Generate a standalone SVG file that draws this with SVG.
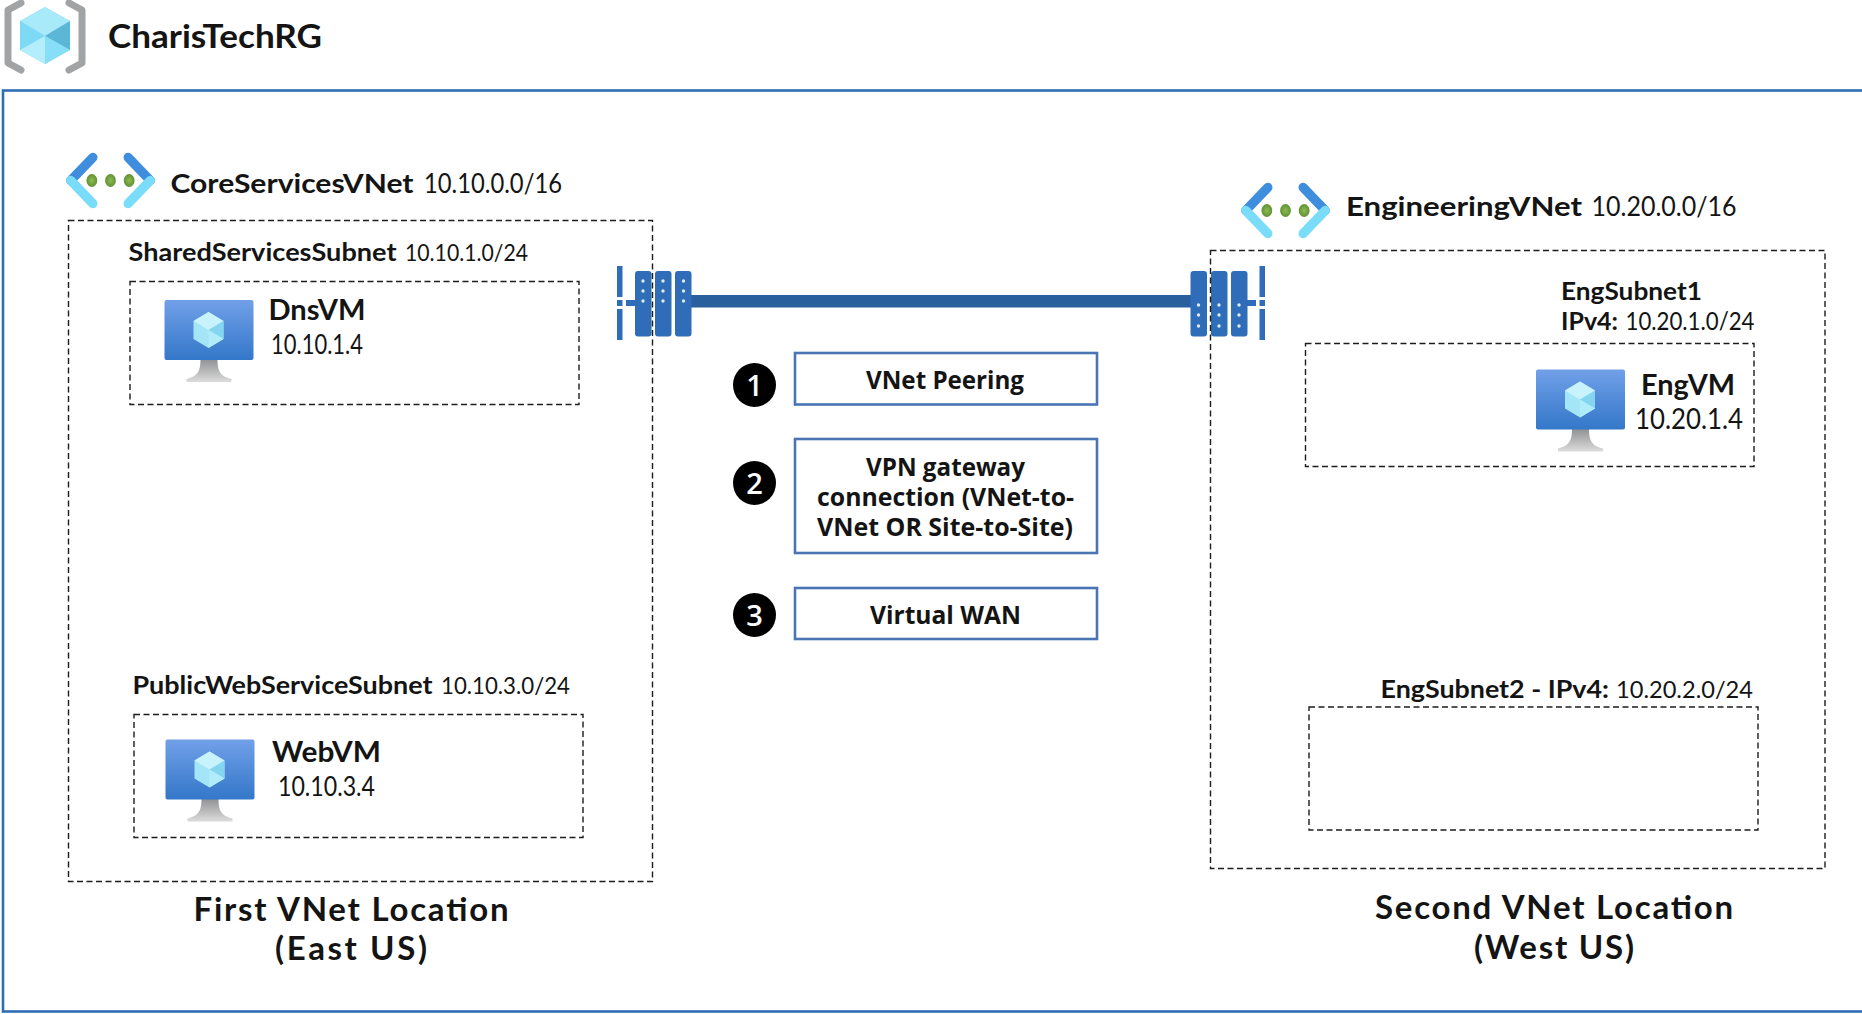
<svg xmlns="http://www.w3.org/2000/svg" width="1862" height="1014" viewBox="0 0 1862 1014">
<style>
text{fill:#141414;font-family:"Lato","Open Sans","Liberation Sans",sans-serif}
.b{font-weight:700}
.r{font-weight:400}
.box{font-family:"Open Sans","Noto Sans","Liberation Sans",sans-serif;font-weight:700;font-size:25px}
.num{font-family:"Open Sans","Noto Sans","Liberation Sans",sans-serif;font-weight:600;font-size:29px;fill:#fff;text-anchor:middle}
.dash{fill:none;stroke:#1c1c1c;stroke-width:1.4;stroke-dasharray:6 3.5}
.opt{fill:#fff;stroke:#4a74b4;stroke-width:2.6}
.gw{fill:#2f6db8}
.dot{fill:#dfeaf6}
</style>
<defs>
<linearGradient id="scr" x1="0" y1="0" x2="0" y2="1"><stop offset="0" stop-color="#71a0e8"/><stop offset="1" stop-color="#3477c9"/></linearGradient>
<linearGradient id="std" x1="0" y1="0" x2="0" y2="1"><stop offset="0" stop-color="#8f9092"/><stop offset="1" stop-color="#dcdcdc"/></linearGradient>
<radialGradient id="grn"><stop offset="0" stop-color="#8dbb4e"/><stop offset="1" stop-color="#5f9236"/></radialGradient>
<symbol id="vnet" viewBox="-46 -28 92 56" overflow="visible">
<path d="M-40.500 0L-18 -23.500M40.500 0L18 -23.500" fill="none" stroke="#3f8ede" stroke-width="9.500" stroke-linecap="round"/>
<path d="M-40.500 0L-18 23.500M40.500 0L18 23.500" fill="none" stroke="#79dcf8" stroke-width="9.500" stroke-linecap="round"/>
<ellipse cx="-19" cy="0" rx="5.500" ry="6.500" fill="url(#grn)"/><ellipse cx="0" cy="0" rx="5.500" ry="6.500" fill="url(#grn)"/><ellipse cx="19" cy="0" rx="5.500" ry="6.500" fill="url(#grn)"/>
</symbol>
<symbol id="vm" viewBox="0 0 89 83" overflow="visible">
<path d="M36 59H53C53 72 56 76 67 79V82H22V79C33 76 36 72 36 59Z" fill="url(#std)"/>
<rect x="0" y="0" width="89" height="60" rx="2" fill="url(#scr)"/>
<path d="M44 12L59 21V39L44 48L29 39V21Z" fill="#a4e6f8"/>
<path d="M44 12L59 21L44 30L29 21Z" fill="#c8f2fc"/>
<path d="M59 21V39L44 30Z" fill="#84d6f0"/>
<path d="M44 30L44 48L59 39Z" fill="#b0ecfa"/>
</symbol>
</defs>

<rect id="frame" x="3" y="90.500" width="1880" height="921" fill="none" stroke="#2e6fb3" stroke-width="2.600"/>

<g id="resource-group">
<path d="M21 3L8 10V63L21 70M69 3L82 10V63L69 70" fill="none" stroke="#a2a3a5" stroke-width="7" stroke-linejoin="round" stroke-linecap="round"/>
<path d="M45 7L70 21V50L45 64L20 50V21Z" fill="#86dcf5"/>
<path d="M45 7L70 21L45 36L20 21Z" fill="#a8e9fa"/>
<path d="M70 21V50L45 36Z" fill="#5cb6d6"/>
<path d="M20 21V50L45 36Z" fill="#7ed9f4"/>
<path d="M20 50L45 36V64Z" fill="#b4edfb"/>
<path d="M70 50L45 36V64Z" fill="#86dff7"/>
<text class="b" x="108" y="48" font-size="32" textLength="214" lengthAdjust="spacingAndGlyphs">CharisTechRG</text>
</g>

<g id="connectors">
<rect x="691" y="295" width="500" height="12.500" fill="#2a5f9e"/>
</g>

<g id="gateway-left">
<rect class="gw" x="617" y="266" width="5.500" height="31"/><rect class="gw" x="617" y="300" width="5.500" height="6"/><rect class="gw" x="617" y="309" width="5.500" height="31"/>
<rect class="gw" x="626" y="300" width="10" height="6"/>
<rect class="gw" x="635" y="271" width="16.500" height="65.500" rx="3"/><rect class="gw" x="655" y="271" width="16.500" height="65.500" rx="3"/><rect class="gw" x="675" y="271" width="16.500" height="65.500" rx="3"/>
<g class="dot"><circle cx="643" cy="281" r="1.700"/><circle cx="643" cy="291" r="1.700"/><circle cx="643" cy="301" r="1.700"/><circle cx="663" cy="281" r="1.700"/><circle cx="663" cy="291" r="1.700"/><circle cx="663" cy="301" r="1.700"/><circle cx="683.500" cy="281" r="1.700"/><circle cx="683.500" cy="291" r="1.700"/><circle cx="683.500" cy="301" r="1.700"/></g>
</g>
<g id="gateway-right">
<rect class="gw" x="1259.500" y="266" width="5.500" height="31"/><rect class="gw" x="1259.500" y="300" width="5.500" height="6"/><rect class="gw" x="1259.500" y="309" width="5.500" height="31"/>
<rect class="gw" x="1247" y="300" width="9" height="6"/>
<rect class="gw" x="1190.500" y="271" width="16.500" height="65.500" rx="3"/><rect class="gw" x="1211" y="271" width="16.500" height="65.500" rx="3"/><rect class="gw" x="1231" y="271" width="16.500" height="65.500" rx="3"/>
<g class="dot"><circle cx="1198.500" cy="305" r="1.700"/><circle cx="1198.500" cy="315" r="1.700"/><circle cx="1198.500" cy="326" r="1.700"/><circle cx="1219" cy="305" r="1.700"/><circle cx="1219" cy="315" r="1.700"/><circle cx="1219" cy="326" r="1.700"/><circle cx="1239" cy="305" r="1.700"/><circle cx="1239" cy="315" r="1.700"/><circle cx="1239" cy="326" r="1.700"/></g>
</g>

<g id="core-vnet">
<use href="#vnet" x="65" y="153" width="91" height="55"/>
<text class="b" x="170.500" y="193" font-size="27" textLength="243" lengthAdjust="spacingAndGlyphs">CoreServicesVNet</text>
<text class="r" x="424" y="193" font-size="27" textLength="138" lengthAdjust="spacingAndGlyphs">10.10.0.0/16</text>
<rect class="dash" x="68.500" y="220.500" width="584" height="661"/>
<text class="b" x="128.500" y="261" font-size="24" textLength="268" lengthAdjust="spacingAndGlyphs">SharedServicesSubnet</text>
<text class="r" x="405" y="261" font-size="24" textLength="123" lengthAdjust="spacingAndGlyphs">10.10.1.0/24</text>
<text class="b" x="132.500" y="694" font-size="24" textLength="300" lengthAdjust="spacingAndGlyphs">PublicWebServiceSubnet</text>
<text class="r" x="441" y="694" font-size="24" textLength="129" lengthAdjust="spacingAndGlyphs">10.10.3.0/24</text>
<text class="b" x="351" y="921" font-size="33" text-anchor="middle" textLength="315" lengthAdjust="spacing">First VNet Location</text>
<text class="b" x="351" y="960" font-size="33" text-anchor="middle" textLength="152" lengthAdjust="spacing">(East US)</text>
</g>
<g id="dns-subnet">
<rect class="dash" x="130" y="281.500" width="449" height="123"/>
<use href="#vm" x="164.500" y="300" width="89" height="83"/>
<text class="b" x="268.500" y="320" font-size="28" textLength="97" lengthAdjust="spacingAndGlyphs">DnsVM</text>
<text class="r" x="271" y="354" font-size="26" textLength="92" lengthAdjust="spacingAndGlyphs">10.10.1.4</text>
</g>
<g id="web-subnet">
<rect class="dash" x="134" y="714.500" width="449" height="123"/>
<use href="#vm" x="165.500" y="739.500" width="89" height="83"/>
<text class="b" x="272" y="762" font-size="28" textLength="109" lengthAdjust="spacingAndGlyphs">WebVM</text>
<text class="r" x="278" y="795.500" font-size="26" textLength="97" lengthAdjust="spacingAndGlyphs">10.10.3.4</text>
</g>

<g id="legend">
<rect class="opt" x="795" y="353" width="302" height="51.500"/>
<rect class="opt" x="795" y="439" width="302" height="114"/>
<rect class="opt" x="795" y="588" width="302" height="51"/>
<ellipse cx="754.500" cy="385" rx="21.500" ry="22" fill="#000"/><text class="num" x="754.500" y="396">1</text>
<ellipse cx="754.500" cy="483" rx="21.500" ry="22" fill="#000"/><text class="num" x="754.500" y="494">2</text>
<ellipse cx="754.500" cy="615" rx="21.500" ry="22" fill="#000"/><text class="num" x="754.500" y="626">3</text>
<text class="box" x="866" y="389" textLength="158" lengthAdjust="spacingAndGlyphs">VNet Peering</text>
<text class="box"><tspan x="866" y="475.500" textLength="159" lengthAdjust="spacingAndGlyphs">VPN gateway</tspan><tspan x="817" y="505.500" textLength="257" lengthAdjust="spacingAndGlyphs">connection (VNet-to-</tspan><tspan x="817" y="536" textLength="256" lengthAdjust="spacingAndGlyphs">VNet OR Site-to-Site)</tspan></text>
<text class="box" x="870" y="624" textLength="151" lengthAdjust="spacingAndGlyphs">Virtual WAN</text>
</g>

<g id="engineering-vnet">
<use href="#vnet" x="1239" y="183" width="93" height="55"/>
<text class="b" x="1346" y="216" font-size="27" textLength="236" lengthAdjust="spacingAndGlyphs">EngineeringVNet</text>
<text class="r" x="1591.500" y="216" font-size="27" textLength="145" lengthAdjust="spacingAndGlyphs">10.20.0.0/16</text>
<rect class="dash" x="1210.500" y="250.500" width="614.500" height="618"/>
<text class="b" x="1554" y="919" font-size="33" text-anchor="middle" textLength="358" lengthAdjust="spacing">Second VNet Location</text>
<text class="b" x="1554" y="959" font-size="33" text-anchor="middle" textLength="160" lengthAdjust="spacing">(West US)</text>
</g>
<g id="eng-subnet1">
<text class="b" x="1561" y="300" font-size="25" textLength="141" lengthAdjust="spacingAndGlyphs">EngSubnet1</text>
<text class="b" x="1561" y="330" font-size="25" textLength="57" lengthAdjust="spacingAndGlyphs">IPv4:</text>
<text class="r" x="1625.500" y="330" font-size="25" textLength="129" lengthAdjust="spacingAndGlyphs">10.20.1.0/24</text>
<rect class="dash" x="1305.500" y="343.500" width="448.500" height="123"/>
<use href="#vm" x="1536" y="369.500" width="89" height="83"/>
<text class="b" x="1641" y="395" font-size="28" textLength="94" lengthAdjust="spacingAndGlyphs">EngVM</text>
<text class="r" x="1635" y="428.500" font-size="28" textLength="108" lengthAdjust="spacingAndGlyphs">10.20.1.4</text>
</g>
<g id="eng-subnet2">
<text class="b" x="1380.500" y="698" font-size="24" textLength="228.500" lengthAdjust="spacingAndGlyphs">EngSubnet2 - IPv4:</text>
<text class="r" x="1616" y="698" font-size="24" textLength="137" lengthAdjust="spacingAndGlyphs">10.20.2.0/24</text>
<rect class="dash" x="1309" y="707" width="449" height="123"/>
</g>
</svg>
